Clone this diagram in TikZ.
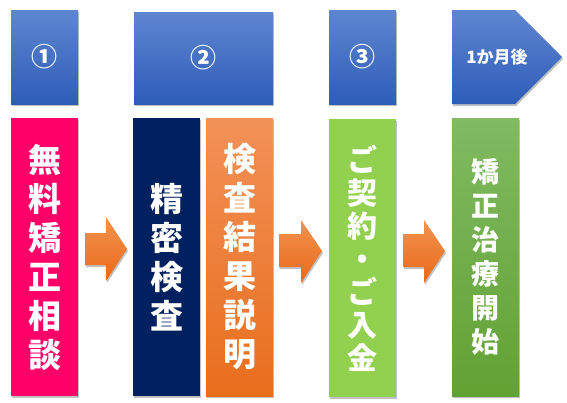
\documentclass[tikz,border=0pt]{standalone}
\usepackage{fontspec}
\newfontfamily\jp{Noto Sans CJK JP}
\usetikzlibrary{shadows}
\definecolor{bluetop}{HTML}{5E86D0}
\definecolor{bluebot}{HTML}{2E5DB8}
\definecolor{pinkc}{HTML}{FF0068}
\definecolor{navyc}{HTML}{002060}
\definecolor{orgtop}{HTML}{F29158}
\definecolor{orgbot}{HTML}{E86E1C}
\definecolor{lgreen}{HTML}{92D050}
\definecolor{grtop}{HTML}{80BA62}
\definecolor{grbot}{HTML}{62A233}
\definecolor{arrtop}{HTML}{F3934E}
\definecolor{arrbot}{HTML}{E9691A}
\tikzset{
  shad/.style={drop shadow={shadow xshift=1pt,shadow yshift=-2pt,opacity=0.35,fill=black!70}},
  topbox/.style={shad,top color=bluetop,bottom color=bluebot,draw=none,minimum width=67pt,minimum height=94pt,inner sep=0pt,text=white,font={\jp\bfseries\fontsize{26}{26}\selectfont}},
  colbox/.style={shad,draw=none,minimum width=67pt,minimum height=278pt,inner sep=0pt,text=white,align=center},
  bigtxt/.style={font={\jp\bfseries\fontsize{33}{39}\selectfont}},
  blockarrow/.style={shad,top color=arrtop,bottom color=arrbot,draw=none}
}
\begin{document}
\begin{tikzpicture}[x=1pt,y=-1pt]
\useasboundingbox (0,0) rectangle (567,402);
% top row
\node[topbox] (t1) at (44.5,57) {①};
\node[topbox,minimum width=139pt,minimum height=92pt] (t2) at (203.5,58) {②};
\node[topbox] (t3) at (362.5,57) {③};
\path[shad,top color=bluetop,bottom color=bluebot] (452,10) -- (515,10) -- (562,57) -- (515,104) -- (452,104) -- cycle;
\node[text=white,font={\jp\bfseries\fontsize{17}{17}\selectfont}] (t4) at (497,57) {1か月後};
% columns
\node[colbox,fill=pinkc,bigtxt] (c1) at (44.5,257) {無\\料\\矯\\正\\相\\談};
\node[colbox,fill=navyc,bigtxt] (c2) at (166.5,257) {精\\密\\検\\査};
\node[colbox,top color=orgtop,bottom color=orgbot,bigtxt] (c3) at (239.5,257) {検\\査\\結\\果\\説\\明};
\node[colbox,fill=lgreen,font={\jp\bfseries\fontsize{30}{33}\selectfont}] (c4) at (362.5,258) {ご\\契\\約\\・\\ご\\入\\金};
\node[colbox,top color=grtop,bottom color=grbot,font={\jp\bfseries\fontsize{28}{34}\selectfont}] (c5) at (485.5,257) {矯\\正\\治\\療\\開\\始};
% block arrows
\path[blockarrow] (85,233) -- (106,233) -- (106,217) -- (127,249) -- (106,281) -- (106,265) -- (85,265) -- cycle;
\path[blockarrow] (279,234) -- (301,234) -- (301,220) -- (322,251) -- (301,283) -- (301,267) -- (279,267) -- cycle;
\path[blockarrow] (403,234) -- (424,234) -- (424,220) -- (445,251) -- (424,283) -- (424,267) -- (403,267) -- cycle;
\end{tikzpicture}
\end{document}
